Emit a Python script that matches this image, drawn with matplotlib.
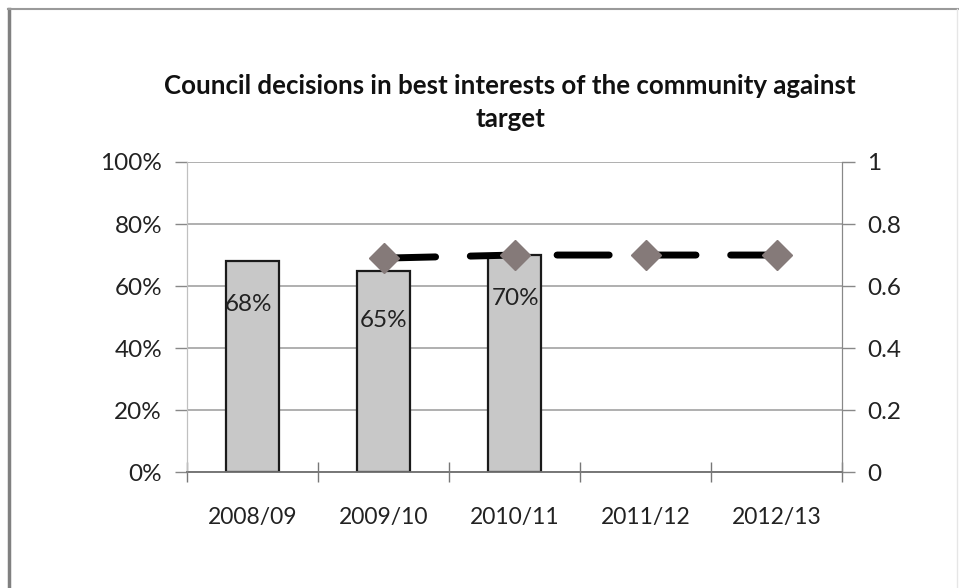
import numpy as np
import matplotlib
matplotlib.use("Agg")
import matplotlib.pyplot as plt
from matplotlib.lines import Line2D
from matplotlib.ticker import PercentFormatter

plt.rcParams['font.family'] = ['Lato', 'DejaVu Sans']

# data
years = ['2008/09', '2009/10', '2010/11', '2011/12', '2012/13']
actual = [0.68, 0.65, 0.70]
target = [np.nan, 0.69, 0.70, 0.70, 0.70]
# where the value labels sit inside the bars (Excel labels were dragged around)
label_y = [0.542, 0.49, 0.561]
label_dx = [-0.03, 0.0, 0.01]

fig = plt.figure(figsize=(9.59, 5.88), dpi=100)
ax = fig.add_axes([0.195, 0.197, 0.683, 0.5275])
ax2 = ax.twinx()

x = np.arange(len(years))
ax.bar(x[:len(actual)], actual, width=0.41, color='#c8c8c8',
       edgecolor='#1a1a1a', linewidth=1.6, zorder=3)
for i, v in enumerate(actual):
    ax.text(x[i] + label_dx[i], label_y[i], f'{v:.0%}', ha='center', va='center',
            fontsize=17.5, color='#222222', zorder=4)

ax2.plot(x, target, color='black', linewidth=5, dashes=(7.5, 5),
         dash_capstyle='round', marker='D', markersize=15,
         markerfacecolor='#857a79', markeredgecolor='#857a79', zorder=5)

ax.set_xlim(-0.5, 4.5)
ax.set_ylim(0, 1)
ax2.set_ylim(0, 1)
ax.set_yticks(np.arange(0, 1.01, 0.2))
ax2.set_yticks(np.arange(0, 1.01, 0.2))
ax.yaxis.set_major_formatter(PercentFormatter(1.0, decimals=0))
ax2.set_yticklabels(['0', '0.2', '0.4', '0.6', '0.8', '1'])

ax.set_xticks(x)
ax.set_xticklabels(years)
ax.set_xticks(np.arange(-0.5, 4.6, 1), minor=True)
ax.tick_params(axis='x', which='major', length=0, pad=25, labelsize=16.5, labelcolor='#222222')
ax.tick_params(axis='x', which='minor', direction='inout', length=15, width=1, color='#777777')
ax.tick_params(axis='y', direction='out', length=9, width=1, color='#888888',
               labelsize=17.5, labelcolor='#222222', pad=9)
ax2.tick_params(axis='y', direction='out', length=9, width=1, color='#888888',
                labelsize=17.5, labelcolor='#222222', pad=9)

ax.grid(axis='y', color='#9a9a9a', linewidth=1.1, zorder=0)
ax.set_axisbelow(True)
for a in (ax, ax2):
    a.spines['top'].set_visible(False)
    a.spines['left'].set_color('#c0c0c0')
    a.spines['right'].set_color('#888888')
    a.spines['bottom'].set_color('#777777')
    a.spines['bottom'].set_linewidth(1.2)
ax.patch.set_visible(False)
ax2.set_zorder(ax.get_zorder() + 1)

fig.text(0.532, 0.826, 'Council decisions in best interests of the community against\ntarget',
         ha='center', va='center', fontsize=18.6, fontweight='bold', color='#111111',
         linespacing=1.45)

# chart frame from the document
fig.add_artist(Line2D([0.0095, 0.0095], [0.0, 0.985], color='#808080', linewidth=2.5))
fig.add_artist(Line2D([0.008, 1.0], [0.985, 0.985], color='#9a9a9a', linewidth=1.5))
fig.add_artist(Line2D([0.998, 0.998], [0.0, 0.985], color='#e6e6e6', linewidth=1))

fig.savefig('out.png', dpi=100, facecolor='white')
